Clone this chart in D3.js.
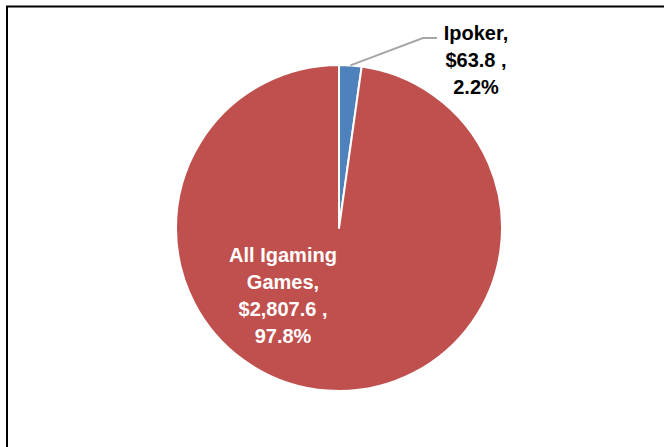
<!DOCTYPE html>
<html><head><meta charset="utf-8">
<script src="https://cdn.jsdelivr.net/npm/d3@7"></script>
<style>html,body{margin:0;padding:0;background:#fff;overflow:hidden}</style>
</head><body>
<script>
const categories = ["Ipoker", "All Igaming Games"];
const values = [63.8, 2807.6];
const colors = ["#4F81BD", "#C0504D"];

const W = 664, H = 447;
const svg = d3.select("body").append("svg").attr("width", W).attr("height", H);

svg.append("rect").attr("x", 7).attr("y", 6.5).attr("width", 800).attr("height", 600)
  .attr("fill", "none").attr("stroke", "#000").attr("stroke-width", 2);

const cx = 339, cy = 228, r = 163;
const total = d3.sum(values);
const data = categories.map((c, i) => ({cat: c, value: values[i], color: colors[i]}));
const pie = d3.pie().sort(null).value(d => d.value);
const arcs = pie(data);
const arc = d3.arc().innerRadius(0).outerRadius(r);

const g = svg.append("g").attr("transform", `translate(${cx},${cy})`);
g.selectAll("path").data(arcs).join("path")
  .attr("d", arc).attr("fill", d => d.data.color)
  .attr("stroke", "#fff").attr("stroke-width", 2).attr("stroke-linejoin", "round");

const fmtVal = v => "$" + d3.format(",.1f")(v) + " ,";
const fmtPct = d3.format(".1%");
const font = "'Liberation Sans', Arial, sans-serif";

function labelLines(d) {
  const name = d.data.cat;
  const words = name === "All Igaming Games" ? ["All Igaming", "Games,"] : [name + ","];
  return words.concat([fmtVal(d.data.value), fmtPct(d.data.value / total)]);
}

// Ipoker label (outside, with leader line)
const a0 = arcs[0];
const mid = (a0.startAngle + a0.endAngle) / 2;
const px = cx + r * Math.sin(mid), py = cy - r * Math.cos(mid);
svg.append("polyline")
  .attr("points", `${px},${py} 423,38 437,38`)
  .attr("fill", "none").attr("stroke", "#A6A6A6").attr("stroke-width", 2);

const t0 = svg.append("text").attr("font-family", font).attr("font-weight", "bold")
  .attr("font-size", 20).attr("fill", "#000").attr("text-anchor", "middle");
labelLines(a0).forEach((s, i) => t0.append("tspan").attr("x", 476).attr("y", 40 + i * 27).text(s));

// All Igaming label (inside)
const a1 = arcs[1];
const t1 = svg.append("text").attr("font-family", font).attr("font-weight", "bold")
  .attr("font-size", 20).attr("fill", "#fff").attr("text-anchor", "middle");
labelLines(a1).forEach((s, i) => t1.append("tspan").attr("x", 283).attr("y", 262 + i * 27).text(s));
</script>
</body></html>
